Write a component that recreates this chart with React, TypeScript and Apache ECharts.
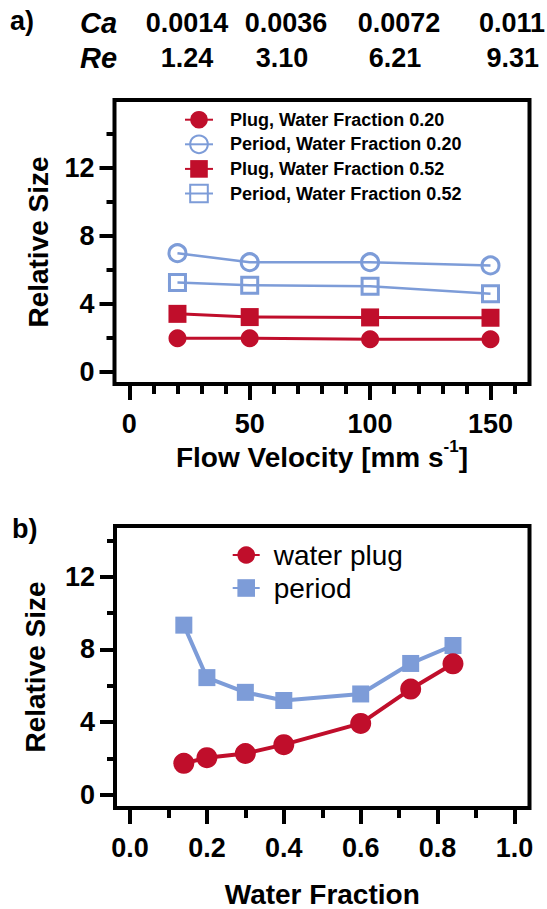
import React, { useEffect, useRef } from "react";
import * as echarts from "echarts";

// ---------- data ----------
const velocities = [20, 50, 100, 150];
const plugWF020 = [1.97, 1.97, 1.91, 1.91];
const periodWF020 = [6.98, 6.45, 6.45, 6.26];
const plugWF052 = [3.41, 3.22, 3.2, 3.18];
const periodWF052 = [5.26, 5.09, 5.03, 4.6];

const waterFractions = [0.14, 0.2, 0.3, 0.4, 0.6, 0.73, 0.84];
const waterPlug = [1.73, 2.04, 2.27, 2.76, 3.93, 5.82, 7.21];
const periodB = [9.34, 6.45, 5.64, 5.19, 5.55, 7.23, 8.22];

const caLabels = ["0.0014", "0.0036", "0.0072", "0.011"];
const reLabels = ["1.24", "3.10", "6.21", "9.31"];

const yTicksMajor = [0, 4, 8, 12];
const yTicksMinor = [2, 6, 10, 14];
const xTicksMajorA = [0, 50, 100, 150];
const xTicksMinorA = [10, 20, 30, 40, 60, 70, 80, 90, 110, 120, 130, 140, 160];
const xTicksMajorB = [0, 0.2, 0.4, 0.6, 0.8, 1.0];
const xTicksMinorB = [0.1, 0.3, 0.5, 0.7, 0.9];

const seriesNamesA = [
  "Plug, Water Fraction 0.20",
  "Period, Water Fraction 0.20",
  "Plug, Water Fraction 0.52",
  "Period, Water Fraction 0.52",
];
const seriesNamesB = ["water plug", "period"];

// ---------- style ----------
const FF = "'Liberation Sans', Arial, Helvetica, sans-serif";
const RED = "#c00e2b";
const BLUE = "#7d9cd8";

const zip = (xs: number[], ys: number[]) => xs.map((x, i) => [x, ys[i]]);

export default function App() {
  const ref = useRef<HTMLDivElement>(null);

  useEffect(() => {
    if (!ref.current) return;
    const chart = echarts.init(ref.current, undefined, { renderer: "svg" });

    const labelStyle = {
      fontFamily: FF,
      fontWeight: "bold" as const,
      fontSize: 27,
      color: "#000",
    };
    const titleStyle = { ...labelStyle, fontSize: 28 };
    const tickLine = { color: "#000", width: 4 };

    const gridA = { left: 114.5, top: 100, width: 415, height: 284 };
    const gridB = { left: 115, top: 526, width: 414.5, height: 284 };
    const yRangeA = { min: -0.72, max: 16 };
    const yRangeB = { min: -0.73, max: 14.8 };
    const xRangeA = { min: -6.15, max: 166.2 };
    const xRangeB = { min: -0.039, max: 1.039 };

    const noLine = { show: false, onZero: false };

    const majorX = (gridIndex: number, range: any, ticks: number[], name: string, nameGap: number, fmt: (v: number) => string, extraName: any) => ({
      type: "value",
      gridIndex,
      position: "bottom",
      ...range,
      axisLine: noLine,
      splitLine: { show: false },
      axisTick: { show: true, length: 16, lineStyle: tickLine, customValues: ticks },
      axisLabel: { show: true, customValues: ticks, margin: 26, formatter: fmt, ...labelStyle },
      name,
      nameLocation: "middle",
      nameGap,
      nameTextStyle: { ...titleStyle, ...extraName },
    });
    const minorX = (gridIndex: number, range: any, ticks: number[]) => ({
      type: "value",
      gridIndex,
      position: "bottom",
      ...range,
      axisLine: noLine,
      splitLine: { show: false },
      axisTick: { show: true, length: 10, lineStyle: tickLine, customValues: ticks },
      axisLabel: { show: false },
    });
    const majorY = (gridIndex: number, range: any, nameGap: number) => ({
      type: "value",
      gridIndex,
      position: "left",
      ...range,
      axisLine: noLine,
      splitLine: { show: false },
      axisTick: { show: true, length: 15, lineStyle: tickLine, customValues: yTicksMajor },
      axisLabel: { show: true, customValues: yTicksMajor, margin: 20, ...labelStyle },
      name: "Relative Size",
      nameLocation: "middle",
      nameGap,
      nameTextStyle: { ...titleStyle },
    });
    const minorY = (gridIndex: number, range: any) => ({
      type: "value",
      gridIndex,
      position: "left",
      ...range,
      axisLine: noLine,
      splitLine: { show: false },
      axisTick: { show: true, length: 8, lineStyle: tickLine, customValues: yTicksMinor },
      axisLabel: { show: false },
    });

    const headerFont = `bold 27px ${FF}`;
    const headerItalic = `italic bold 29px ${FF}`;
    // x anchor and alignment of each header column (last column right-aligned to stay on the page)
    const caAnchors = [187, 286, 399, 545];
    const reAnchors = [187, 282, 395, 539];
    const colAlign = ["center", "center", "center", "right"];

    const graphic: any[] = [
      { type: "text", x: 10, y: 21, style: { text: "a)", font: headerFont, fill: "#000", textVerticalAlign: "middle" } },
      { type: "text", x: 80, y: 22.5, style: { text: "Ca", font: headerItalic, fill: "#000", textVerticalAlign: "middle" } },
      { type: "text", x: 80, y: 58, style: { text: "Re", font: headerItalic, fill: "#000", textVerticalAlign: "middle" } },
      { type: "text", x: 12, y: 529, style: { text: "b)", font: headerFont, fill: "#000", textVerticalAlign: "middle" } },
      ...caLabels.map((t, i) => ({
        type: "text",
        x: caAnchors[i],
        y: 22.5,
        style: { text: t, font: headerFont, fill: "#000", textAlign: colAlign[i], textVerticalAlign: "middle" },
      })),
      ...reLabels.map((t, i) => ({
        type: "text",
        x: reAnchors[i],
        y: 58,
        style: { text: t, font: headerFont, fill: "#000", textAlign: colAlign[i], textVerticalAlign: "middle" },
      })),
    ];

    const hollow = "rgba(255,255,255,0)";

    const option: any = {
      animation: false,
      backgroundColor: "#fff",
      textStyle: { fontFamily: FF },
      grid: [
        { ...gridA, show: true, borderColor: "#000", borderWidth: 4, backgroundColor: "transparent" },
        { ...gridB, show: true, borderColor: "#000", borderWidth: 4, backgroundColor: "transparent" },
      ],
      xAxis: [
        majorX(0, xRangeA, xTicksMajorA, "Flow Velocity [mm s{sup|-1}]", 50, (v: number) => String(v), {
          lineHeight: 40,
          rich: { sup: { fontFamily: FF, fontWeight: "bold", fontSize: 17, lineHeight: 17, verticalAlign: "top", color: "#000" } },
        }),
        minorX(0, xRangeA, xTicksMinorA),
        majorX(1, xRangeB, xTicksMajorB, "Water Fraction", 72, (v: number) => v.toFixed(1), {}),
        minorX(1, xRangeB, xTicksMinorB),
      ],
      yAxis: [
        majorY(0, yRangeA, 62),
        minorY(0, yRangeA),
        majorY(1, yRangeB, 66),
        minorY(1, yRangeB),
      ],
      legend: [
        {
          orient: "vertical",
          left: 184,
          top: 110.7,
          padding: 0,
          itemWidth: 28,
          itemHeight: 22,
          itemGap: 5.8,
          data: seriesNamesA,
          textStyle: { fontFamily: FF, fontWeight: "bold", fontSize: 18, color: "#000", padding: [0, 0, 0, 12] },
        },
        {
          orient: "vertical",
          left: 231.7,
          top: 541,
          padding: 0,
          itemWidth: 27,
          itemHeight: 22,
          itemGap: 5,
          data: seriesNamesB,
          textStyle: { fontFamily: FF, fontWeight: "normal", fontSize: 28, color: "#000", padding: [0, 0, 0, 9] },
        },
      ],
      series: [
        {
          name: seriesNamesA[0],
          type: "line",
          xAxisIndex: 0,
          yAxisIndex: 0,
          data: zip(velocities, plugWF020),
          symbol: "circle",
          symbolSize: 18,
          itemStyle: { color: RED },
          lineStyle: { color: RED, width: 3 },
        },
        {
          name: seriesNamesA[1],
          type: "line",
          xAxisIndex: 0,
          yAxisIndex: 0,
          data: zip(velocities, periodWF020),
          symbol: "circle",
          symbolSize: 17,
          itemStyle: { color: hollow, borderColor: BLUE, borderWidth: 3 },
          lineStyle: { color: BLUE, width: 2.5 },
        },
        {
          name: seriesNamesA[2],
          type: "line",
          xAxisIndex: 0,
          yAxisIndex: 0,
          data: zip(velocities, plugWF052),
          symbol: "rect",
          symbolSize: 18,
          itemStyle: { color: RED },
          lineStyle: { color: RED, width: 3 },
        },
        {
          name: seriesNamesA[3],
          type: "line",
          xAxisIndex: 0,
          yAxisIndex: 0,
          data: zip(velocities, periodWF052),
          symbol: "rect",
          symbolSize: 16,
          itemStyle: { color: hollow, borderColor: BLUE, borderWidth: 3 },
          lineStyle: { color: BLUE, width: 2.5 },
        },
        {
          name: seriesNamesB[1],
          type: "line",
          xAxisIndex: 2,
          yAxisIndex: 2,
          data: zip(waterFractions, periodB),
          symbol: "rect",
          symbolSize: 17,
          itemStyle: { color: BLUE },
          lineStyle: { color: BLUE, width: 4 },
        },
        {
          name: seriesNamesB[0],
          type: "line",
          xAxisIndex: 2,
          yAxisIndex: 2,
          data: zip(waterFractions, waterPlug),
          symbol: "circle",
          symbolSize: 21,
          itemStyle: { color: RED },
          lineStyle: { color: RED, width: 4 },
        },
      ],
      graphic,
    };

    chart.setOption(option);
    return () => chart.dispose();
  }, []);

  return (
    <div
      ref={ref}
      style={{ position: "absolute", left: 0, top: 0, width: 547, height: 909, background: "#fff" }}
    />
  );
}
